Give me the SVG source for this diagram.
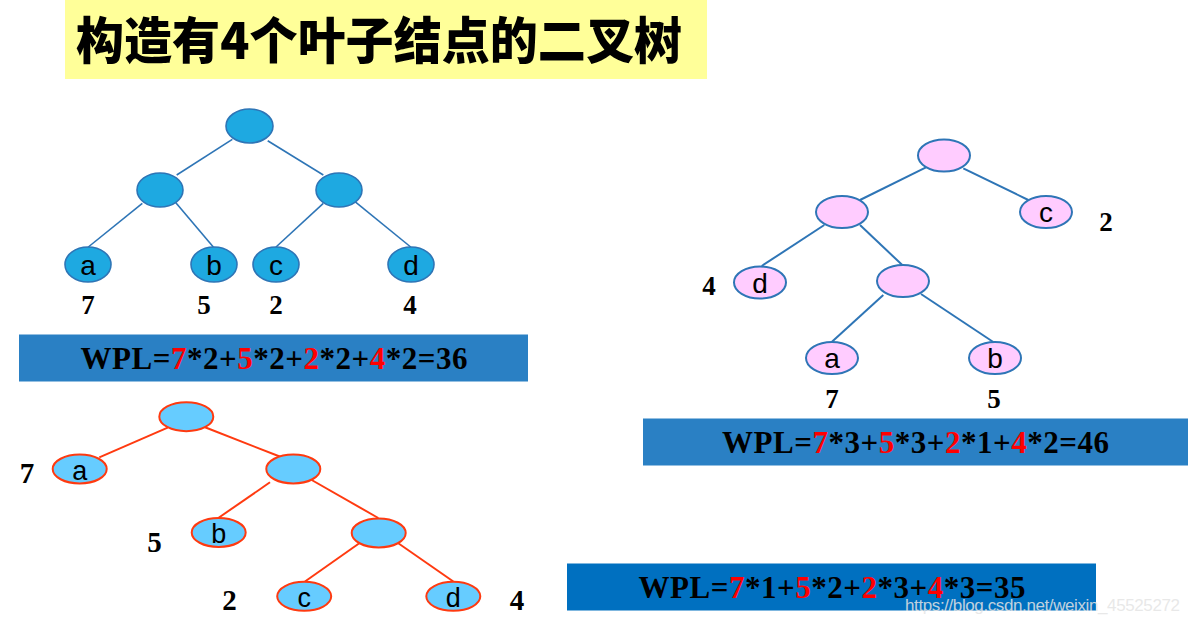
<svg xmlns="http://www.w3.org/2000/svg" width="1188" height="624" viewBox="0 0 1188 624">
<style>
.t1n{fill:#1EA9E1;stroke:#2E75B6;stroke-width:1.6}
.t2n{fill:#FFCCFF;stroke:#2E75B6;stroke-width:2}
.t3n{fill:#66CCFF;stroke:#FF3A10;stroke-width:2}
.e1 line{stroke:#2E75B6;stroke-width:1.6}
.e2 line{stroke:#2E75B6;stroke-width:2}
.e3 line{stroke:#FF3A10;stroke-width:2}
.lt{font-family:"Liberation Sans",Arial,sans-serif;font-size:28px;fill:#000;text-anchor:middle}
.lt3{font-family:"Liberation Sans",Arial,sans-serif;font-size:27px;fill:#000;text-anchor:middle}
.w{font-family:"Liberation Serif","Times New Roman",serif;font-weight:bold;font-size:27px;fill:#000;text-anchor:middle}
.w3{font-family:"Liberation Serif","Times New Roman",serif;font-weight:bold;font-size:29px;fill:#000;text-anchor:middle}
.wpl{font-family:"Liberation Serif","Times New Roman",serif;font-weight:bold;font-size:31px;fill:#000}
.r{fill:#FF0000}
</style>
<rect width="1188" height="624" fill="#ffffff"/>

<g id="title">
<rect x="65" y="0" width="642" height="79" fill="#FFFF99"/>
<text x="76" y="59" textLength="606" lengthAdjust="spacingAndGlyphs" font-family="'Noto Sans CJK SC','Noto Sans',sans-serif" font-weight="900" font-size="50" fill="#000">构造有4个叶子结点的二叉树</text>
</g>

<!-- Tree 1 -->
<g id="tree1-edges" class="e1">
<line x1="232.3" y1="139.3" x2="176.7" y2="175"/>
<line x1="267.7" y1="140.7" x2="323.3" y2="175"/>
<line x1="142.3" y1="203.3" x2="88.3" y2="247"/>
<line x1="175" y1="201.7" x2="213.3" y2="247"/>
<line x1="323.3" y1="203.3" x2="276" y2="247"/>
<line x1="355" y1="201.7" x2="410.7" y2="247"/>
</g>
<g id="t1-root"><ellipse class="t1n" cx="249.5" cy="126" rx="23.5" ry="17"/></g>
<g id="t1-l"><ellipse class="t1n" cx="160" cy="190" rx="23" ry="17"/></g>
<g id="t1-r"><ellipse class="t1n" cx="339" cy="190" rx="23" ry="17"/></g>
<g id="t1-a"><ellipse class="t1n" cx="88" cy="264.5" rx="23" ry="17.5"/><text class="lt" x="88" y="275">a</text></g>
<g id="t1-b"><ellipse class="t1n" cx="214" cy="264.5" rx="23" ry="17.5"/><text class="lt" x="214" y="275">b</text></g>
<g id="t1-c"><ellipse class="t1n" cx="276" cy="264.5" rx="23" ry="17.5"/><text class="lt" x="276" y="275">c</text></g>
<g id="t1-d"><ellipse class="t1n" cx="411" cy="264.5" rx="23" ry="17.5"/><text class="lt" x="411" y="275">d</text></g>
<g id="t1-weights">
<text class="w" x="88" y="314">7</text>
<text class="w" x="204" y="314">5</text>
<text class="w" x="276" y="314">2</text>
<text class="w" x="410" y="314">4</text>
</g>
<g id="wpl1">
<rect x="19" y="334.5" width="509" height="47" fill="#2A80C4"/>
<text class="wpl" x="80.5" y="369" textLength="387">WPL=<tspan class="r">7</tspan>*2+<tspan class="r">5</tspan>*2+<tspan class="r">2</tspan>*2+<tspan class="r">4</tspan>*2=36</text>
</g>

<!-- Tree 2 -->
<g id="tree2-edges" class="e2">
<line x1="926" y1="167.3" x2="860" y2="200"/>
<line x1="963.3" y1="168.3" x2="1028.3" y2="200"/>
<line x1="824.3" y1="225" x2="761.7" y2="266"/>
<line x1="860" y1="225" x2="903.3" y2="266"/>
<line x1="883.3" y1="295" x2="831.7" y2="342"/>
<line x1="921" y1="294" x2="993.3" y2="342"/>
</g>
<g id="t2-root"><ellipse class="t2n" cx="944" cy="155.5" rx="26" ry="16"/></g>
<g id="t2-l"><ellipse class="t2n" cx="842" cy="212" rx="26" ry="16"/></g>
<g id="t2-c"><ellipse class="t2n" cx="1046" cy="212" rx="26" ry="16"/><text class="lt" x="1046" y="222">c</text></g>
<g id="t2-d"><ellipse class="t2n" cx="760" cy="282.5" rx="26" ry="16"/><text class="lt" x="760" y="293">d</text></g>
<g id="t2-m"><ellipse class="t2n" cx="903" cy="281" rx="26" ry="16"/></g>
<g id="t2-a"><ellipse class="t2n" cx="832" cy="358" rx="26" ry="16"/><text class="lt" x="832" y="368">a</text></g>
<g id="t2-b"><ellipse class="t2n" cx="995" cy="358" rx="26" ry="16"/><text class="lt" x="995" y="368">b</text></g>
<g id="t2-weights">
<text class="w" x="1106" y="231">2</text>
<text class="w" x="709" y="295">4</text>
<text class="w" x="832" y="408">7</text>
<text class="w" x="994" y="408">5</text>
</g>
<g id="wpl2">
<rect x="643" y="418.5" width="545" height="47" fill="#2A80C4"/>
<text class="wpl" x="722" y="453" textLength="387">WPL=<tspan class="r">7</tspan>*3+<tspan class="r">5</tspan>*3+<tspan class="r">2</tspan>*1+<tspan class="r">4</tspan>*2=46</text>
</g>

<!-- Tree 3 -->
<g id="tree3-edges" class="e3">
<line x1="167.7" y1="427.7" x2="99.3" y2="457.3"/>
<line x1="205" y1="427.3" x2="281" y2="457"/>
<line x1="270" y1="482.3" x2="218.3" y2="518"/>
<line x1="311.7" y1="480" x2="378.3" y2="518"/>
<line x1="359.3" y1="543.3" x2="305" y2="581.5"/>
<line x1="398.3" y1="543.3" x2="453.3" y2="581.5"/>
</g>
<g id="t3-root"><ellipse class="t3n" cx="186.3" cy="416.7" rx="27" ry="14.5"/></g>
<g id="t3-a"><ellipse class="t3n" cx="79.7" cy="469" rx="27" ry="14.5"/><text class="lt3" x="79.7" y="480">a</text></g>
<g id="t3-m1"><ellipse class="t3n" cx="293.3" cy="469" rx="27" ry="14.5"/></g>
<g id="t3-b"><ellipse class="t3n" cx="218.7" cy="532.5" rx="27" ry="14.5"/><text class="lt3" x="218.7" y="543">b</text></g>
<g id="t3-m2"><ellipse class="t3n" cx="378.7" cy="533" rx="27" ry="14.5"/></g>
<g id="t3-c"><ellipse class="t3n" cx="304.2" cy="596.3" rx="27" ry="14.5"/><text class="lt3" x="304.2" y="607">c</text></g>
<g id="t3-d"><ellipse class="t3n" cx="453.3" cy="596.3" rx="27" ry="14.5"/><text class="lt3" x="453.3" y="607">d</text></g>
<g id="t3-weights">
<text class="w3" x="27" y="483">7</text>
<text class="w3" x="154.5" y="552">5</text>
<text class="w3" x="229.5" y="610">2</text>
<text class="w3" x="517" y="610">4</text>
</g>
<g id="wpl3">
<rect x="567" y="563.5" width="529" height="47" fill="#0070C0"/>
<text class="wpl" x="638.5" y="598" textLength="387">WPL=<tspan class="r">7</tspan>*1+<tspan class="r">5</tspan>*2+<tspan class="r">2</tspan>*3+<tspan class="r">4</tspan>*3=35</text>
</g>

<text id="watermark" x="905" y="611" textLength="275" font-family="'Liberation Sans',Arial,sans-serif" font-size="17" fill="#E4E4E4" fill-opacity="0.85">https://blog.csdn.net/weixin_45525272</text>
</svg>
